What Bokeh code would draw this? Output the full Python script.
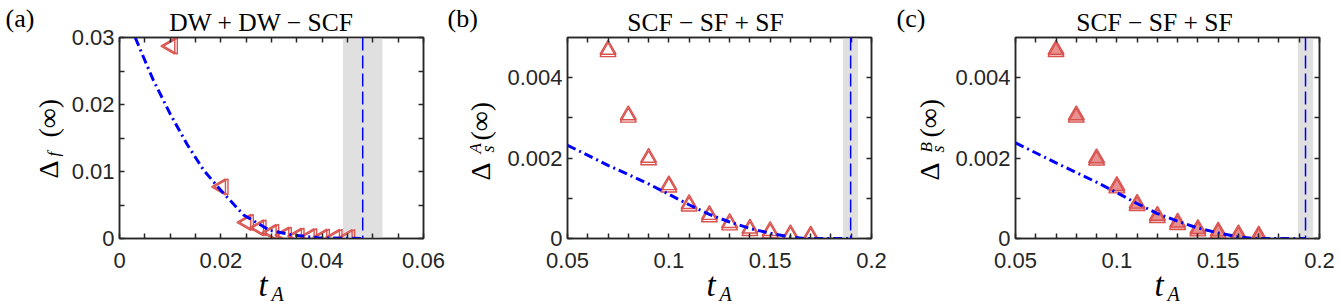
import math
from bokeh.plotting import figure
from bokeh.models import (FixedTicker, LinearAxis, NumeralTickFormatter, Range1d,
                          BoxAnnotation, Span, CustomJSTickFormatter)
from bokeh.layouts import row, column
from bokeh.embed import file_html
from bokeh.resources import INLINE
from bokeh.core.properties import value

# ---------------- data ----------------
# panel (a): DW+DW-SCF  (two overlapping data sets)
a_t = [0.01, 0.02, 0.025, 0.0275, 0.03, 0.0325, 0.035, 0.0375, 0.04, 0.0425, 0.045]
a_t2 = [0.0105, 0.0205, 0.0255, 0.028, 0.0305, 0.033, 0.0355, 0.038, 0.0405, 0.043, 0.0455]
a_delta = [0.0287, 0.0077, 0.0024, 0.0016, 0.0009, 0.0005, 0.00035, 0.00028, 0.00022, 0.00018, 0.00015]
a_fit_t = [0.0031, 0.005, 0.0067, 0.010, 0.0133, 0.0166, 0.020, 0.0245, 0.0297, 0.0343, 0.0393, 0.048]
a_fit_delta = [0.030, 0.0266, 0.0236, 0.0186, 0.0141, 0.0102, 0.0072, 0.0035, 0.0012, 0.0005, 0.0001, 0.0]
a_crit = 0.048
a_band = (0.0441, 0.0519)

# panel (b): SCF-SF+SF, Delta_s^A
b_t = [0.07, 0.08, 0.09, 0.10, 0.11, 0.12, 0.13, 0.14, 0.15, 0.16, 0.17]
b_delta = [0.00470, 0.00307, 0.00201, 0.00133, 0.00086, 0.00059, 0.00039, 0.00025, 0.00019, 0.00011, 0.00008]
b_delta2 = [0.00464, 0.00301, 0.00195, 0.00127, 0.00080, 0.00053, 0.00033, 0.00019, 0.00013, 0.00005, 0.00002]
b_fit_t = [0.05, 0.07, 0.09, 0.10, 0.11, 0.12, 0.13, 0.14, 0.15, 0.16, 0.167, 0.1897]
b_fit_delta = [0.00232, 0.00182, 0.00136, 0.00110, 0.00084, 0.00060, 0.00041, 0.00025, 0.00013, 0.00004, 0.0, 0.0]
b_crit = 0.1897
b_band = (0.1859, 0.1933)

# panel (c): SCF-SF+SF, Delta_s^B
c_t = [0.07, 0.08, 0.09, 0.10, 0.11, 0.12, 0.13, 0.14, 0.15, 0.16, 0.17]
c_delta = [0.00470, 0.00307, 0.00200, 0.00131, 0.00087, 0.00057, 0.00040, 0.00024, 0.00018, 0.00011, 0.00008]
c_delta2 = [0.00464, 0.00301, 0.00194, 0.00125, 0.00081, 0.00051, 0.00034, 0.00018, 0.00012, 0.00005, 0.00002]
c_fit_t = [0.05, 0.07, 0.09, 0.10, 0.11, 0.12, 0.13, 0.14, 0.15, 0.16, 0.167, 0.1931]
c_fit_delta = [0.00238, 0.00188, 0.0014, 0.00114, 0.00087, 0.00062, 0.00043, 0.00026, 0.00014, 0.00004, 0.0, 0.0]
c_crit = 0.1931
c_band = (0.1893, 0.1969)

a_xticks = [0, 0.02, 0.04, 0.06]
a_xminor = [0.005, 0.01, 0.015, 0.025, 0.03, 0.035, 0.045, 0.05, 0.055]
a_yticks = [0, 0.01, 0.02, 0.03]
a_yminor = [0.005, 0.015, 0.025]
bc_xticks = [0.05, 0.1, 0.15, 0.2]
bc_xminor = [0.06, 0.07, 0.08, 0.09, 0.11, 0.12, 0.13, 0.14, 0.16, 0.17, 0.18, 0.19]
bc_yticks = [0, 0.002, 0.004]
bc_yminor = [0.001, 0.003]

titles = ["DW + DW \u2212 SCF", "SCF \u2212 SF + SF", "SCF \u2212 SF + SF"]
panel_tags = ["(a)", "(b)", "(c)"]

RED = "#D9534F"
BLUE = "#0000FF"
AX = "#262626"
SERIF = "Liberation Serif"
SANS = "Liberation Sans"


def style_axis(ax, ticks, minor, show_labels):
    ax.ticker = FixedTicker(ticks=ticks, minor_ticks=minor)
    ax.axis_line_color = AX
    ax.axis_line_width = 1.5
    ax.major_tick_line_color = AX
    ax.minor_tick_line_color = AX
    ax.major_tick_line_width = 1.5
    ax.minor_tick_line_width = 1.5
    ax.major_tick_in = 5
    ax.major_tick_out = 0
    ax.minor_tick_in = 5
    ax.minor_tick_out = 0
    if show_labels:
        ax.formatter = NumeralTickFormatter(format="0.[000]")
        ax.major_label_text_font = SANS
        ax.major_label_text_font_size = "22px"
        ax.major_label_text_color = AX
    else:
        ax.formatter = CustomJSTickFormatter(code="return ''")
        ax.major_label_standoff = 0


def make_panel(xr, yr, xt, xm, yt, ym, bl, br, band, crit):
    p = figure(frame_width=304, frame_height=201, min_border_left=bl, min_border_right=br,
               min_border_top=37, min_border_bottom=65, x_range=Range1d(*xr),
               y_range=Range1d(*yr), output_backend="svg", toolbar_location=None,
               x_axis_location=None, y_axis_location=None)
    p.grid.visible = False
    p.outline_line_color = AX
    p.outline_line_width = 1.5
    p.background_fill_color = "white"
    p.border_fill_color = "white"
    bottom = LinearAxis(); style_axis(bottom, xt, xm, True)
    bottom.major_label_standoff = 14
    left = LinearAxis(); style_axis(left, yt, ym, True)
    left.major_label_standoff = 5
    top = LinearAxis(); style_axis(top, xt, xm, False)
    right = LinearAxis(); style_axis(right, yt, ym, False)
    p.add_layout(bottom, "below")
    p.add_layout(left, "left")
    p.add_layout(top, "above")
    p.add_layout(right, "right")
    p.add_layout(BoxAnnotation(left=band[0], right=band[1], fill_color="#E0E0E0",
                               fill_alpha=1.0, line_alpha=0, level="underlay"))
    p.add_layout(Span(location=crit, dimension="height", line_color=BLUE,
                      line_width=1.5, line_dash="13 5"))
    return p


MK = dict(size=16, line_color=RED, line_width=1.4)

# ---------- (a) ----------
pa = make_panel((0, 0.06), (0, 0.03), a_xticks, a_xminor, a_yticks, a_yminor, 119, 22, a_band, a_crit)
pa.scatter(a_t2, a_delta, marker="triangle", angle=math.pi / 2, fill_alpha=0, **MK)
pa.scatter(a_t, a_delta, marker="triangle", angle=math.pi / 2, fill_alpha=0, **MK)
pa.line(a_fit_t, a_fit_delta, line_color=BLUE, line_width=3, line_dash="9 4 2 4")

# ---------- (b) ----------
pb = make_panel((0.05, 0.2), (0, 0.005), bc_xticks, bc_xminor, bc_yticks, bc_yminor, 122, 22, b_band, b_crit)
pb.scatter(b_t, b_delta, marker="triangle", fill_alpha=0, **MK)
pb.scatter(b_t, b_delta2, marker="triangle", fill_alpha=0, **MK)
pb.line(b_fit_t, b_fit_delta, line_color=BLUE, line_width=3, line_dash="9 4 2 4")

# ---------- (c) ----------
pc = make_panel((0.05, 0.2), (0, 0.005), bc_xticks, bc_xminor, bc_yticks, bc_yminor, 122, 20, c_band, c_crit)
pc.scatter(c_t, c_delta, marker="triangle", fill_color=RED, fill_alpha=0.4, **MK)
pc.scatter(c_t, c_delta2, marker="triangle", fill_color=RED, fill_alpha=0.4, **MK)
pc.line(c_fit_t, c_fit_delta, line_color=BLUE, line_width=3, line_dash="9 4 2 4")

# ---------- text overlay (page pixel coordinates) ----------
ov = figure(width=1339, height=303, x_range=Range1d(0, 1339), y_range=Range1d(303, 0),
            min_border=0, output_backend="svg", toolbar_location=None,
            x_axis_location=None, y_axis_location=None,
            styles={"position": "absolute", "left": "0px", "top": "0px",
                    "pointer-events": "none", "z-index": "5"})
ov.grid.visible = False
ov.outline_line_color = None
ov.background_fill_alpha = 0
ov.border_fill_alpha = 0


def txt(s, x, y, size, style="normal", angle=0.0, align="left"):
    ov.text(x=[x], y=[y], text=[s], text_font=value(SERIF), text_font_size=f"{size}px",
            text_font_style=style, angle=angle, text_align=align,
            text_baseline="middle", text_color="black")


V = math.pi / 2
for title, tag, cx, tagx, fx in [(titles[0], panel_tags[0], 261, 5, 119),
                                 (titles[1], panel_tags[1], 705, 447, 567),
                                 (titles[2], panel_tags[2], 1154, 896, 1015)]:
    txt(title, cx, 22, 25.5, align="center")
    txt(tag, tagx, 18, 26)
    txt("t", fx + 139, 284, 33, style="italic")
    txt("A", fx + 152, 293, 20, style="italic")

# y-axis labels (rotated, reading upward); x is the text's vertical middle
txt("\u0394", 47.5, 178, 28, angle=V)
txt("f", 53, 156, 17, style="italic", angle=V)
txt("(\u221e)", 48, 137, 28, angle=V)

txt("\u0394", 480, 180, 28, angle=V)
txt("A", 475, 153, 17, style="italic", angle=V)
txt("s", 487, 152, 18, style="italic", angle=V)
txt("(\u221e)", 480, 140, 28, angle=V)

txt("\u0394", 929, 180, 28, angle=V)
txt("B", 926, 152, 17, style="italic", angle=V)
txt("s", 937, 152, 18, style="italic", angle=V)
txt("(\u221e)", 929, 137, 28, angle=V)

layout = column(row(pa, pb, pc), ov)
open("out.html", "w").write(file_html(layout, INLINE))
